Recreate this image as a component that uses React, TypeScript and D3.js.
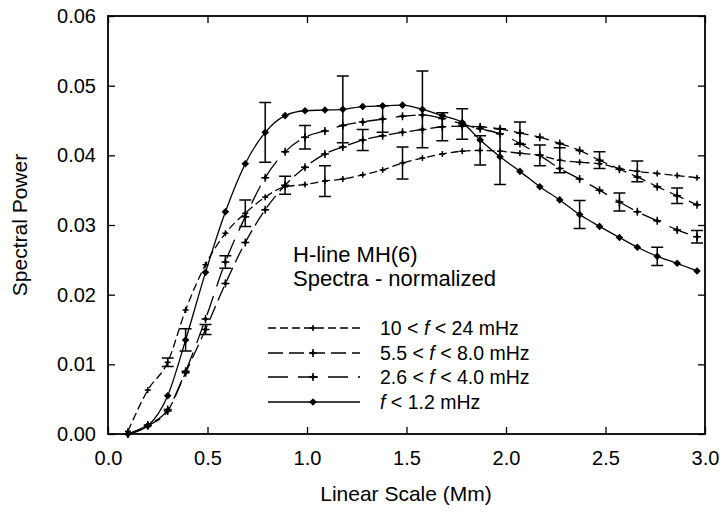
import React, { useEffect, useRef } from "react";
import * as d3 from "d3";

// linear scale (Mm) at which each spectrum was sampled
const scale = [
  0.1, 0.2, 0.3, 0.39, 0.49, 0.59, 0.69, 0.79, 0.89, 0.99, 1.09, 1.18, 1.28, 1.38, 1.48,
  1.58, 1.68, 1.78, 1.87, 1.97, 2.07, 2.17, 2.27, 2.37, 2.47, 2.57, 2.66, 2.76, 2.86, 2.96,
];

// normalized spectral power per frequency band
const band10to24 = [
  0.0004, 0.0063, 0.0103, 0.0178, 0.0243, 0.0288, 0.0317, 0.034, 0.0355, 0.0358, 0.0363,
  0.0366, 0.0372, 0.0379, 0.0389, 0.0396, 0.0402, 0.0406, 0.0407, 0.0406, 0.0403, 0.04,
  0.0393, 0.039, 0.0388, 0.0381, 0.0377, 0.0374, 0.0371, 0.0368,
];
const band5to8 = [
  0.0, 0.0012, 0.0033, 0.0088, 0.015, 0.0216, 0.0275, 0.0322, 0.0357, 0.0383, 0.0402,
  0.0412, 0.0422, 0.0428, 0.0433, 0.0437, 0.0441, 0.0442, 0.0441, 0.0438, 0.0432, 0.0426,
  0.0417, 0.0407, 0.0393, 0.038, 0.0369, 0.0355, 0.0342, 0.0329,
];
const band2to4 = [
  0.0, 0.0013, 0.0035, 0.009, 0.0165, 0.0247, 0.0312, 0.0368, 0.0405, 0.0426, 0.0435,
  0.0443, 0.0448, 0.0452, 0.0456, 0.0458, 0.0453, 0.0445, 0.0438, 0.0431, 0.0417, 0.04,
  0.0381, 0.0366, 0.035, 0.0333, 0.0319, 0.0306, 0.0293, 0.0283,
];
const bandBelow1 = [
  0.0, 0.0012, 0.0055, 0.0135, 0.0232, 0.0319, 0.0388, 0.0433, 0.0457, 0.0464, 0.0465,
  0.0466, 0.047, 0.0471, 0.0472, 0.0466, 0.0457, 0.0447, 0.0422, 0.0398, 0.0377, 0.0355,
  0.0336, 0.0315, 0.0298, 0.0282, 0.0268, 0.0255, 0.0245, 0.0234,
];

// half length of error bars (null = no bar drawn)
const n = null;
const err10to24 = [
  n, n, 0.0006, n, n, n, 0.0019, n, n, n, 0.0022, n, n, n, 0.0023,
  n, n, n, 0.0021, n, n, n, 0.0018, n, n, n, 0.0015, n, n, n,
];
const err5to8 = [
  n, n, n, n, 0.0007, n, n, n, 0.0013, n, n, n, 0.0015, n, n,
  n, 0.002, n, n, n, 0.0016, n, n, n, 0.0012, n, n, n, 0.0011, n,
];
const err2to4 = [
  n, n, n, n, n, 0.0009, n, n, n, 0.0017, n, n, n, 0.0019, n,
  n, n, 0.0022, n, n, n, 0.0015, n, n, n, 0.0013, n, n, n, 0.0009,
];
const errBelow1 = [
  n, n, n, 0.0016, n, n, n, 0.0043, n, n, n, 0.0048, n, n, n,
  0.0055, n, n, n, 0.004, n, n, n, 0.002, n, n, n, 0.0013, n, n,
];

const xTicks = [0, 0.5, 1.0, 1.5, 2.0, 2.5, 3.0];
const yTicks = [0, 0.01, 0.02, 0.03, 0.04, 0.05, 0.06];
const legendLabels = [
  ["10 < ", " < 24 mHz"],
  ["5.5 < ", " < 8.0 mHz"],
  ["2.6 < ", " < 4.0 mHz"],
  ["", " < 1.2 mHz"],
];

const W = 724;
const H = 518;
const FONT = "Arial, 'Liberation Sans', sans-serif";

const styles = [
  { values: band10to24, err: err10to24, dash: "8,4", marker: "plusSmall" },
  { values: band5to8, err: err5to8, dash: "15,6", marker: "plus" },
  { values: band2to4, err: err2to4, dash: "20,10", marker: "plus" },
  { values: bandBelow1, err: errBelow1, dash: null, marker: "diamond" },
];

function drawMarker(g: any, cx: number, cy: number, kind: string) {
  if (kind === "diamond") {
    const r = 3.8;
    g.append("path")
      .attr("d", `M${cx},${cy - r}L${cx + r},${cy}L${cx},${cy + r}L${cx - r},${cy}Z`)
      .attr("fill", "#000");
    return;
  }
  const a = kind === "plusSmall" ? 3 : 4;
  const r = kind === "plusSmall" ? 1.7 : 2.5;
  g.append("path")
    .attr("d", `M${cx - a},${cy}H${cx + a}M${cx},${cy - a}V${cy + a}`)
    .attr("stroke", "#000")
    .attr("stroke-width", 1.5);
  g.append("path")
    .attr("d", `M${cx},${cy - r}L${cx + r},${cy}L${cx},${cy + r}L${cx - r},${cy}Z`)
    .attr("fill", "#000");
}

const App = () => {
  const svgRef = useRef<SVGSVGElement>(null);

  useEffect(() => {
    const svg = d3.select(svgRef.current);
    svg.selectAll("*").remove();

    const x = d3.scaleLinear().domain([0, 3]).range([108, 705]);
    const y = d3.scaleLinear().domain([0, 0.06]).range([434, 16]);

    // axes, ticks on the inside of the frame
    svg
      .append("g")
      .attr("transform", "translate(0,434)")
      .call(d3.axisBottom(x).tickValues(xTicks).tickSize(-7).tickSizeOuter(0).tickPadding(17).tickFormat(d3.format(".1f")))
      .call((g) => g.select(".domain").remove());
    svg
      .append("g")
      .attr("transform", "translate(0,16)")
      .call(d3.axisTop(x).tickValues(xTicks).tickSize(-7).tickSizeOuter(0).tickFormat(() => ""))
      .call((g) => g.select(".domain").remove());
    svg
      .append("g")
      .attr("transform", "translate(108,0)")
      .call(d3.axisLeft(y).tickValues(yTicks).tickSize(-7).tickSizeOuter(0).tickPadding(12).tickFormat(d3.format(".2f")))
      .call((g) => g.select(".domain").remove());
    svg
      .append("g")
      .attr("transform", "translate(705,0)")
      .call(d3.axisRight(y).tickValues(yTicks).tickSize(-7).tickSizeOuter(0).tickFormat(() => ""))
      .call((g) => g.select(".domain").remove());

    svg.selectAll(".tick line").attr("stroke", "#000").attr("stroke-width", 1.3);
    svg
      .selectAll(".tick text")
      .attr("font-family", FONT)
      .attr("font-size", 20)
      .attr("fill", "#000");

    svg
      .append("rect")
      .attr("x", 108)
      .attr("y", 16)
      .attr("width", 705 - 108)
      .attr("height", 434 - 16)
      .attr("fill", "none")
      .attr("stroke", "#000")
      .attr("stroke-width", 1.8);

    // axis titles
    svg
      .append("text")
      .attr("x", 406)
      .attr("y", 501)
      .attr("text-anchor", "middle")
      .attr("font-family", FONT)
      .attr("font-size", 21)
      .text("Linear Scale (Mm)");
    svg
      .append("text")
      .attr("transform", "translate(27,225) rotate(-90)")
      .attr("text-anchor", "middle")
      .attr("font-family", FONT)
      .attr("font-size", 21)
      .text("Spectral Power");

    const line = d3
      .line<number>()
      .x((d, i) => x(scale[i]))
      .y((d) => y(d))
      .curve(d3.curveMonotoneX);

    styles.forEach((s) => {
      const g = svg.append("g");
      g.append("path")
        .attr("d", line(s.values))
        .attr("fill", "none")
        .attr("stroke", "#000")
        .attr("stroke-width", 1.3)
        .attr("stroke-dasharray", s.dash);

      s.values.forEach((v, i) => {
        const e = s.err[i];
        if (e == null) return;
        const cx = x(scale[i]);
        g.append("path")
          .attr("d", `M${cx},${y(v + e)}V${y(v - e)}M${cx - 6},${y(v + e)}H${cx + 6}M${cx - 6},${y(v - e)}H${cx + 6}`)
          .attr("stroke", "#000")
          .attr("stroke-width", 1.5)
          .attr("fill", "none");
      });

      s.values.forEach((v, i) => drawMarker(g, x(scale[i]), y(v), s.marker));
    });

    // annotation
    const note = svg
      .append("text")
      .attr("font-family", FONT)
      .attr("font-size", 22);
    note.append("tspan").attr("x", 293).attr("y", 262).text("H-line MH(6)");
    note.append("tspan").attr("x", 293).attr("y", 286).text("Spectra - normalized");

    // legend
    const rows = [328, 353, 377, 402];
    styles.forEach((s, i) => {
      const g = svg.append("g");
      g.append("line")
        .attr("x1", 268)
        .attr("x2", 360)
        .attr("y1", rows[i])
        .attr("y2", rows[i])
        .attr("stroke", "#000")
        .attr("stroke-width", 1.3)
        .attr("stroke-dasharray", s.dash);
      drawMarker(g, 313, rows[i], s.marker);
      const t = g
        .append("text")
        .attr("x", 380)
        .attr("y", rows[i] + 7)
        .attr("font-family", FONT)
        .attr("font-size", 19.5);
      t.append("tspan").text(legendLabels[i][0]);
      t.append("tspan").attr("font-style", "italic").text("f");
      t.append("tspan").text(legendLabels[i][1]);
    });
  }, []);

  return (
    <svg
      ref={svgRef}
      width={W}
      height={H}
      style={{ position: "absolute", left: 0, top: 0, background: "#fff" }}
    />
  );
};

export default App;
